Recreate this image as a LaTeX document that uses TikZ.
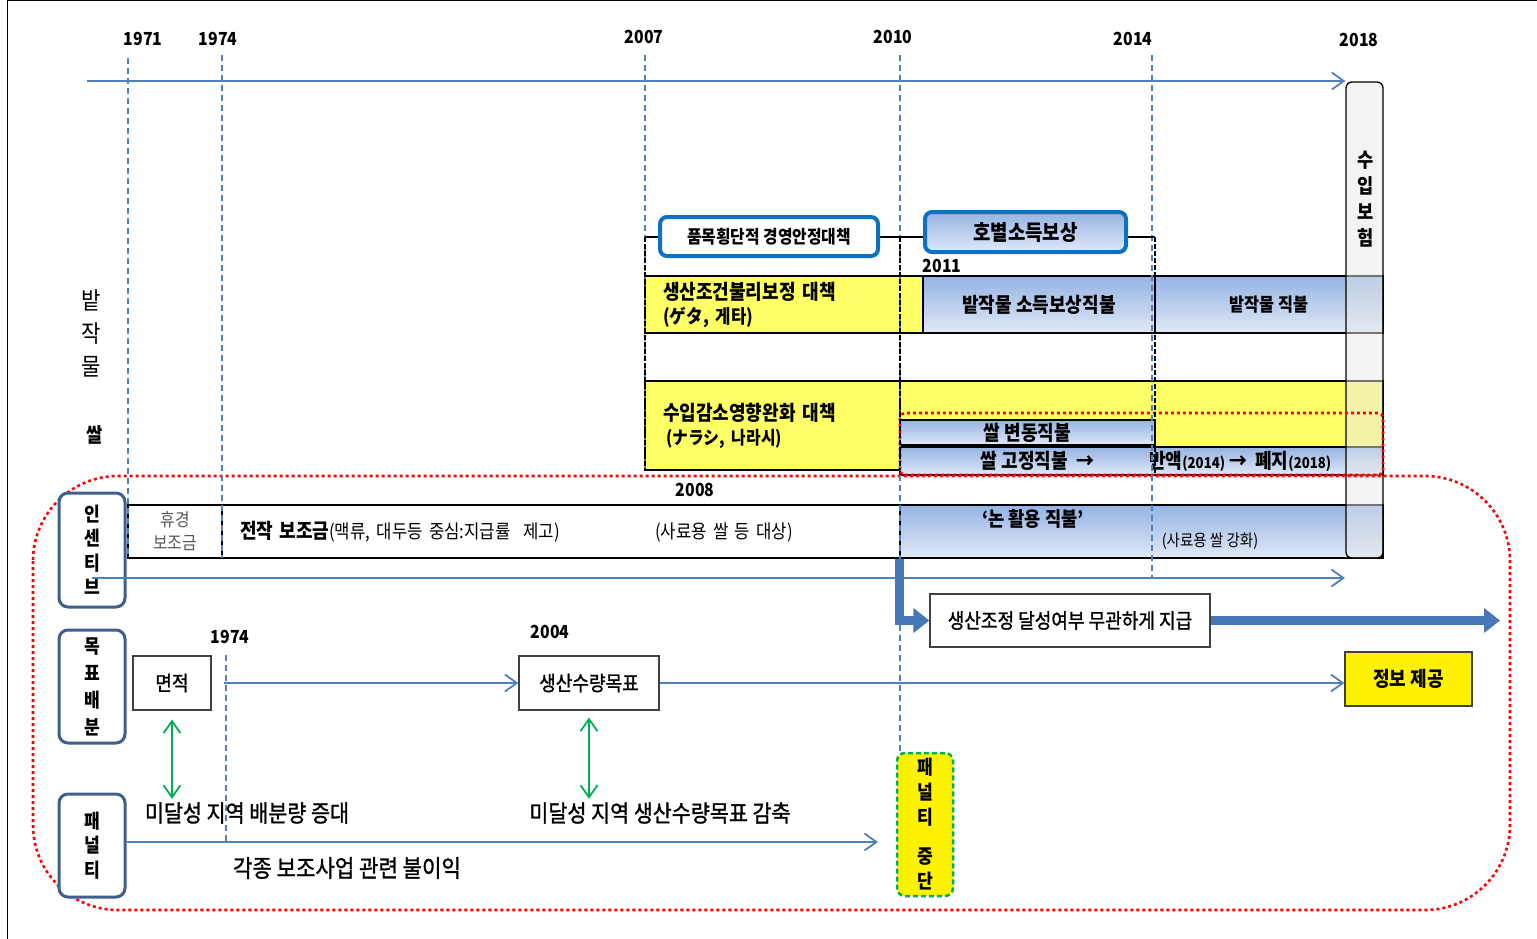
\documentclass[tikz,border=0pt]{standalone}
\usepackage{fontspec}
\setmainfont{Noto Sans CJK KR}[FakeStretch=0.88]
\newfontfamily\kmed{Noto Sans CJK KR}[FakeStretch=0.88, FakeBold=1.2]
\usepackage{xcolor}
\usepackage{tikz}
\usetikzlibrary{arrows.meta,positioning,calc}
\definecolor{lineblue}{HTML}{4F81BD}
\definecolor{gtop}{HTML}{95B3E3}
\definecolor{gbot}{HTML}{E1E9F7}
\definecolor{cellyellow}{HTML}{FFFF66}
\definecolor{titleblue}{HTML}{0B72C2}
\definecolor{catblue}{HTML}{3F5F8F}
\definecolor{arrowgreen}{HTML}{00B050}
\definecolor{fatblue}{HTML}{4677B6}
\newcommand{\kfs}[2]{\fontsize{#1}{#2}\selectfont}
\begin{document}
\begin{tikzpicture}[x=1pt, y=-1pt, >={Straight Barb[length=12pt,width=17pt]},
  yr/.style={font=\bfseries\kfs{18}{20}},
  guide/.style={draw=lineblue, line width=1.2pt, dash pattern=on 6pt off 4pt},
  frameline/.style={draw, line width=2pt, dash pattern=on 5pt off 2pt},
  tl/.style={draw=lineblue, line width=1.8pt, ->},
  cell/.style={draw, line width=1.3pt, inner sep=0pt, font=\bfseries\kfs{20.5}{24}},
  bluecell/.style={cell, top color=gtop, bottom color=gbot},
  yelcell/.style={cell, fill=cellyellow},
  titlebox/.style={draw=titleblue, line width=4pt, rounded corners=7pt, inner sep=0pt},
  cat/.style={draw=catblue, line width=3pt, rounded corners=9pt, fill=white, inner sep=0pt, minimum width=66pt, align=center, font=\bfseries\kfs{19.5}{24.5}},
  plainbox/.style={draw=black!75, line width=1.2pt, fill=white, inner sep=0pt, font=\kmed\kfs{20.5}{23}},
  reddot/.style={draw=red, line width=2.6pt, dash pattern=on 3pt off 3pt},
  gar/.style={draw=arrowgreen, line width=1.8pt, <->},
  fat/.style={draw=fatblue, line width=9pt, line join=miter, -{Triangle[length=16pt,width=24pt]}},
  note/.style={font=\kmed\kfs{23.5}{26}}]
  \fill[white] (0,0) rectangle (1537,939);
  \useasboundingbox (0,0) rectangle (1537,939);
  \draw[line width=1pt] (7,939) -- (7,1) -- (1537,1);

  \node[yr](y1971) at (143,39){1971};
  \node[yr](y1974) at (218,39){1974};
  \node[yr](y2007) at (644,37){2007};
  \node[yr](y2010) at (893,37){2010};
  \node[yr](y2014) at (1133,39){2014};
  \node[yr](y2018) at (1359,40){2018};

  \node[yelcell, minimum width=278pt, minimum height=57pt, text width=242pt, align=left](geta) at (784,304.5){생산조건불리보정 대책\\{\kfs{19}{24}(ゲタ, 게타)}};
  \node[bluecell, minimum width=232pt, minimum height=57pt](upland) at (1039,304.5){밭작물 소득보상직불};
  \node[bluecell, minimum width=228pt, minimum height=57pt, font=\bfseries\kfs{18.5}{22}](uplandB) at (1269,304.5){밭작물 직불};
  \node[yelcell, minimum width=255pt, minimum height=89pt, text width=219pt, align=left](narashi) at (772.5,425.5){수입감소영향완화 대책\\{\kfs{18}{24}\,(ナラシ, 나라시)}};
  \node[yelcell, minimum width=483pt, minimum height=66pt](riceY) at (1141.5,414){};
  \node[bluecell, line width=2pt, minimum width=255pt, minimum height=25pt](riceV) at (1027.5,432.5){쌀 변동직불};
  \node[bluecell, minimum width=483pt, minimum height=28pt](riceF) at (1141.5,461){\hspace*{29pt}쌀 고정직불 \ →\hspace{55pt}반액{\kfs{15}{15}(2014)} →\hspace{8pt}폐지{\kfs{15}{15}(2018)}};

  \node[cell, fill=white, minimum width=94pt, minimum height=53pt, align=center, font=\kfs{18}{23}, text=black!65](fallow) at (175,531.5){휴경\\보조금};
  \node[cell, fill=white, minimum width=678pt, minimum height=53pt, text width=642pt, align=left, font=\kfs{19}{23}](diverse) at (561,531.5){{\bfseries\kfs{20.5}{23}전작 보조금}(맥류, 대두등 중심:지급률\ \ 제고)\hspace{\fill}(사료용 쌀 등 대상)\hspace*{89pt}\null};
  \node[bluecell, minimum width=483pt, minimum height=53pt](paddy) at (1141.5,531.5){};
  \node[font=\bfseries\kfs{20}{23}](paddyT) at (1033,519){‘논 활용 직불’};
  \node[font=\kfs{16.5}{20}](paddyN) at (1210,541){(사료용 쌀 강화)};

  \node[draw, line width=1.3pt, rounded corners=6pt, fill=gray!18, fill opacity=0.5, minimum width=37pt, minimum height=476pt, inner sep=0pt](ins) at (1364.5,320){};
  \node[font=\bfseries\kfs{20}{26}, align=center](insT) at (1366,199){수\\입\\보\\험};

  \draw[reddot, rounded corners=5pt] (900,413) rectangle (1383,475);
  \draw[reddot, rounded corners=85pt] (33,476) rectangle (1510,910);

  \draw[guide] (128,58) -- (128,558);
  \draw[guide] (222,55) -- (222,558);
  \draw[guide] (645,55) -- (645,470);
  \draw[guide] (900,55) -- (900,752);
  \draw[guide] (1152,55) -- (1152,578);
  \draw[guide] (226,655) -- (226,842);

  \draw[line width=2pt] (645,237) -- (1155,237);
  \draw[frameline] (645,237) -- (645,470);
  \draw[frameline] (900,237) -- (900,470);
  \draw[frameline] (1155,237) -- (1155,475);

  \node[titlebox, fill=white, minimum width=218pt, minimum height=39pt, font=\bfseries\kfs{18}{20}](title1) at (769,236.5){품목횡단적 경영안정대책};
  \node[titlebox, top color=gtop, bottom color=gbot, minimum width=201pt, minimum height=40pt, font=\bfseries\kfs{21.5}{24}](title2) at (1025.5,232){호별소득보상};
  \node[yr](y2011) at (942,266){2011};
  \node[yr](y2008) at (695,490){2008};

  \node[font=\kfs{24}{33}, align=center](uplandL) at (91,333){밭\\작\\물};
  \node[font=\bfseries\kfs{20}{22}](riceL) at (95,435){쌀};

  \coordinate (tStart) at (87,81);
  \draw[tl] (tStart) -- (tStart -| ins.west);

  \node[cat, minimum height=114pt](inc) at (92,550){인\\센\\티\\브};
  \node[cat, minimum height=113pt, font=\bfseries\kfs{19.5}{27}](tgt) at (92,686.5){목\\표\\배\\분};
  \node[cat, minimum height=103pt](pen) at (92,845.5){패\\널\\티};

  \coordinate (incEnd) at (1345,578);
  \draw[tl] (inc.center |- incEnd) -- (incEnd);

  \node[plainbox, minimum width=280pt, minimum height=53pt](uncond) at (1070,620.5){생산조정 달성여부 무관하게 지급};
  \node[plainbox, fill=yellow, minimum width=127pt, minimum height=54pt, font=\bfseries\kfs{20.5}{23}](info) at (1408.5,679){정보 제공};
  \coordinate (fatEnd) at (1500,620.5);
  \draw[fat] (paddy.south west) |- (uncond.west);
  \draw[fat] (uncond.east) -- (fatEnd);

  \node[plainbox, minimum width=78pt, minimum height=54pt](area) at (172,683){면적};
  \node[plainbox, minimum width=140pt, minimum height=54pt](prod) at (589,683){생산수량목표};
  \node[yr](y1974b) at (230,637){1974};
  \node[yr](y2004) at (550,632){2004};
  \draw[tl] (area.east -| 224,0) -- (prod.west);
  \draw[tl] (prod.east) -- (prod.east -| info.west);

  \node[note](lackA) at (247,813){미달성 지역 배분량 증대};
  \node[note](lackB) at (660,813){미달성 지역 생산수량목표 감축};
  \node[note, font=\kmed\kfs{24}{26}](loss) at (347,868){각종 보조사업 관련 불이익};
  \draw[gar] ([yshift=-9pt]area.south) -- (area.south |- lackA.north);
  \draw[gar] ([yshift=-7pt]prod.south) -- (prod.south |- lackB.north);

  \node[draw=arrowgreen, line width=2.5pt, dash pattern=on 5pt off 3pt, rounded corners=8pt, fill=yellow, minimum width=56pt, minimum height=143pt, inner sep=0pt, align=center, font=\bfseries\kfs{19.5}{25}](stop) at (925,824.5){패\\널\\티\\[14pt]중\\단};
  \coordinate (penEnd) at (878,842);
  \draw[tl] (pen.east |- penEnd) -- (penEnd);
\end{tikzpicture}
\end{document}
